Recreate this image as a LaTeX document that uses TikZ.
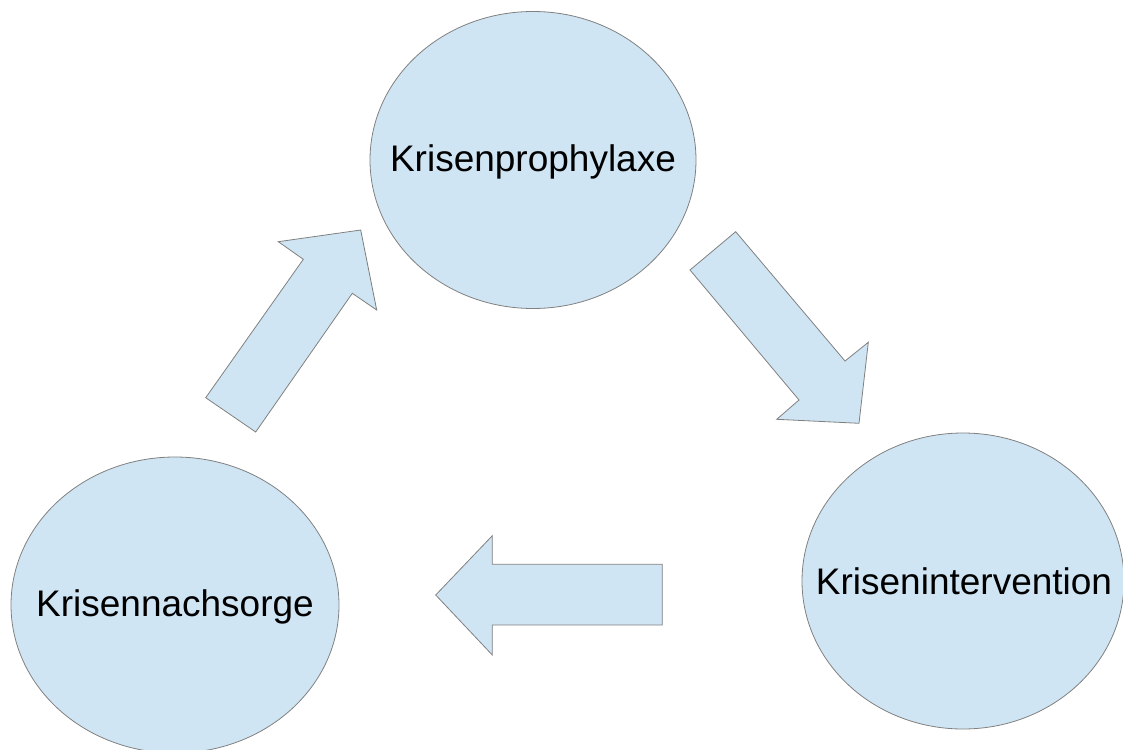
\documentclass[tikz,border=0pt]{standalone}
\usepackage{fontspec}
\setmainfont{Liberation Sans}
\usetikzlibrary{shapes.geometric}
\definecolor{bubble}{RGB}{207,229,243}
\definecolor{rim}{RGB}{128,128,128}
\tikzset{
  phase/.style={ellipse, draw=rim, fill=bubble, line width=0.8pt, inner sep=0pt,
    font=\fontsize{37}{40}\selectfont, text=black},
  blockarrow/.style={draw=rim, fill=bubble, line width=0.8pt, line join=miter}
}
\begin{document}
\begin{tikzpicture}[x=1pt,y=-1pt]
  \useasboundingbox (0,0) rectangle (1123,749);

  % the three phases of the cycle
  \node[phase, minimum width=326pt, minimum height=297pt] (prophylaxe) at (533,160) {};
  \node[phase, minimum width=322pt, minimum height=296pt] (intervention) at (963,581) {};
  \node[phase, minimum width=328pt, minimum height=296pt] (nachsorge) at (175,605) {};

  \node[font=\fontsize{37}{40}\selectfont] (tprophylaxe) at (533,162) {Krisenprophylaxe};
  \node[font=\fontsize{37}{40}\selectfont] (tintervention) at (964,581) {Krisenintervention};
  \node[font=\fontsize{37}{40}\selectfont] (tnachsorge) at (175,607) {Krisennachsorge};

  % block arrow: Nachsorge -> Prophylaxe
  \draw[blockarrow] (205.7,397.7) -- (303.3,259.3) -- (278.3,241.7) -- (360.7,230)
    -- (376.7,310) -- (352.3,293.3) -- (255.7,432) -- cycle;

  % block arrow: Prophylaxe -> Intervention
  \draw[blockarrow] (735.7,231.7) -- (845,361) -- (868.3,342.3) -- (859,423.3)
    -- (776.7,419.3) -- (799,400) -- (690,270) -- cycle;

  % block arrow: Intervention -> Nachsorge
  \draw[blockarrow] (662.3,564.3) -- (492.3,564.3) -- (492.3,535.7) -- (435.7,595)
    -- (492.3,655) -- (492.3,625) -- (662.3,625) -- cycle;
\end{tikzpicture}
\end{document}
